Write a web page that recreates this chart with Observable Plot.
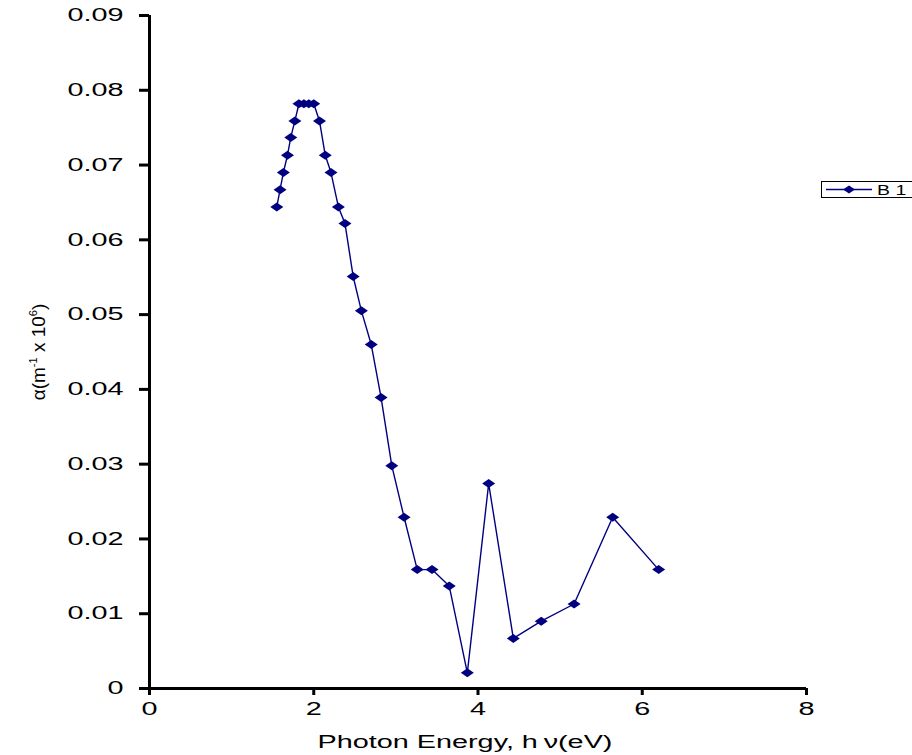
<!DOCTYPE html>
<html>
<head>
<meta charset="utf-8">
<script src="https://cdn.jsdelivr.net/npm/d3@7"></script>
<script src="https://cdn.jsdelivr.net/npm/@observablehq/plot@0.6"></script>
<style>
  html, body { margin: 0; padding: 0; background: #fff; }
  #wrap { position: relative; width: 912px; height: 755px; }
  #legend { position: absolute; left: 821px; top: 181px; }
</style>
</head>
<body>
<div id="wrap"></div>
<script>
// Photon energy (eV) and absorption coefficient α (m^-1 x 10^6)
const energy = [1.55, 1.59, 1.63, 1.68, 1.72, 1.77, 1.82, 1.88, 1.94, 2.00,
                2.07, 2.14, 2.21, 2.30, 2.38, 2.48, 2.58, 2.70, 2.82, 2.95,
                3.10, 3.26, 3.44, 3.65, 3.87, 4.13, 4.43, 4.77, 5.17, 5.64, 6.20];
const alpha  = [0.0644, 0.0667, 0.0690, 0.0713, 0.0737, 0.0759, 0.0782, 0.0782, 0.0782, 0.0782,
                0.0759, 0.0713, 0.0690, 0.0644, 0.0622, 0.0551, 0.0505, 0.0460, 0.0389, 0.0298,
                0.0229, 0.0159, 0.0159, 0.0137, 0.0021, 0.0274, 0.0067, 0.0090, 0.0113, 0.0229, 0.0159];
const seriesName = "B 1";

const xTicks = [0, 2, 4, 6, 8];
const xTickLabels = ["0", "2", "4", "6", "8"];
const yTicks = [0, 0.01, 0.02, 0.03, 0.04, 0.05, 0.06, 0.07, 0.08, 0.09];
const yTickLabels = ["0", "0.01", "0.02", "0.03", "0.04", "0.05", "0.06", "0.07", "0.08", "0.09"];
const xLabel = "Photon Energy, h\u2009ν(eV)";
// y label pieces: [text, isSuperscript]
const yLabelParts = [["α(m", false], ["-1", true], [" x 10", false], ["6", true], [")", false]];
const yLabel = yLabelParts.map(p => p[0]).join("");

const data = energy.map((e, i) => ({energy: e, alpha: alpha[i], series: seriesName}));

const NAVY = "#000080";
const STRETCH = 1.6;
const FONT = "'Liberation Sans', Arial, sans-serif";

const wideDiamond = {
  draw(context, size) {
    context.moveTo(-6.5, 0);
    context.lineTo(0, -4.5);
    context.lineTo(6.5, 0);
    context.lineTo(0, 4.5);
    context.closePath();
  }
};

const chart = Plot.plot({
  width: 912,
  height: 755,
  marginLeft: 149,
  marginRight: 106,
  marginTop: 15,
  marginBottom: 67,
  style: {fontFamily: FONT, fontSize: "18px", color: "#000", background: "#fff"},
  x: {domain: [0, 8]},
  y: {domain: [0, 0.09]},
  marks: [
    Plot.axisX(xTicks, {
      tickFormat: d => xTickLabels[xTicks.indexOf(d)],
      tickSize: 7, tickPadding: 7, fontSize: 18, strokeWidth: 3, stroke: "#000", fill: "#000",
      label: xLabel, labelAnchor: "center", labelOffset: 59, labelArrow: "none"
    }),
    Plot.axisY(yTicks, {
      tickFormat: d => yTickLabels[yTicks.indexOf(d)],
      tickSize: 10, tickPadding: 16, fontSize: 18, strokeWidth: 3, stroke: "#000", fill: "#000",
      label: yLabel, labelAnchor: "center", labelOffset: 118, labelArrow: "none"
    }),
    Plot.ruleX([0], {stroke: "#000", strokeWidth: 3}),
    Plot.ruleY([0], {stroke: "#000", strokeWidth: 3}),
    Plot.line(data, {x: "energy", y: "alpha", stroke: NAVY, strokeWidth: 1.4}),
    Plot.dot(data, {x: "energy", y: "alpha", symbol: wideDiamond, fill: NAVY, stroke: "none", r: 5})
  ]
});

document.getElementById("wrap").append(chart);

// remove any label arrows, just in case
chart.querySelectorAll('g[aria-label="x-axis label"] text, g[aria-label="y-axis label"] text').forEach(t => {
  t.textContent = t.textContent.replace(/\s*[→←↑↓]\s*/g, "");
});

// y-axis label with real superscripts
chart.querySelectorAll('g[aria-label="y-axis label"] text').forEach(t => {
  t.textContent = "";
  t.style.fontSize = "19px";
  for (const [s, sup] of yLabelParts) {
    const ts = document.createElementNS("http://www.w3.org/2000/svg", "tspan");
    ts.textContent = s;
    if (sup) { ts.setAttribute("dy", "-8"); ts.style.fontSize = "11px"; }
    else if (t.childNodes.length) { ts.setAttribute("dy", "8"); }
    t.appendChild(ts);
  }
});

// Horizontally stretch the text to match the reference's wide lettering
chart.querySelectorAll('g[aria-label="x-axis tick label"] text, g[aria-label="y-axis tick label"] text, g[aria-label="x-axis label"] text').forEach(t => {
  const b = t.getBBox();
  const anchor = getComputedStyle(t).textAnchor;
  const ax = anchor === "end" ? b.x + b.width : anchor === "middle" ? b.x + b.width / 2 : b.x;
  const shift = t.closest('g[aria-label="x-axis label"]') ? -13 : 0;
  const tr = t.getAttribute("transform") || "";
  t.setAttribute("transform", `${tr} translate(${ax + shift},0) scale(${STRETCH},1) translate(${-ax},0)`);
});

// Legend
const lg = d3.select("#wrap").append("svg")
  .attr("id", "legend").attr("width", 91).attr("height", 18);
lg.append("rect").attr("x", 0.5).attr("y", 0.5).attr("width", 95).attr("height", 16)
  .attr("fill", "#fff").attr("stroke", "#000").attr("stroke-width", 1);
lg.append("line").attr("x1", 5).attr("x2", 51).attr("y1", 8.5).attr("y2", 8.5)
  .attr("stroke", NAVY).attr("stroke-width", 1.5);
lg.append("path").attr("d", "M22,8.5L28,4.5L34,8.5L28,12.5Z").attr("fill", NAVY);
lg.append("text").attr("x", 0).attr("y", 0).text(seriesName)
  .attr("font-family", FONT).attr("font-size", 15)
  .attr("fill", "#000")
  .attr("transform", "translate(56,14) scale(1.3,1)");
</script>
</body>
</html>
